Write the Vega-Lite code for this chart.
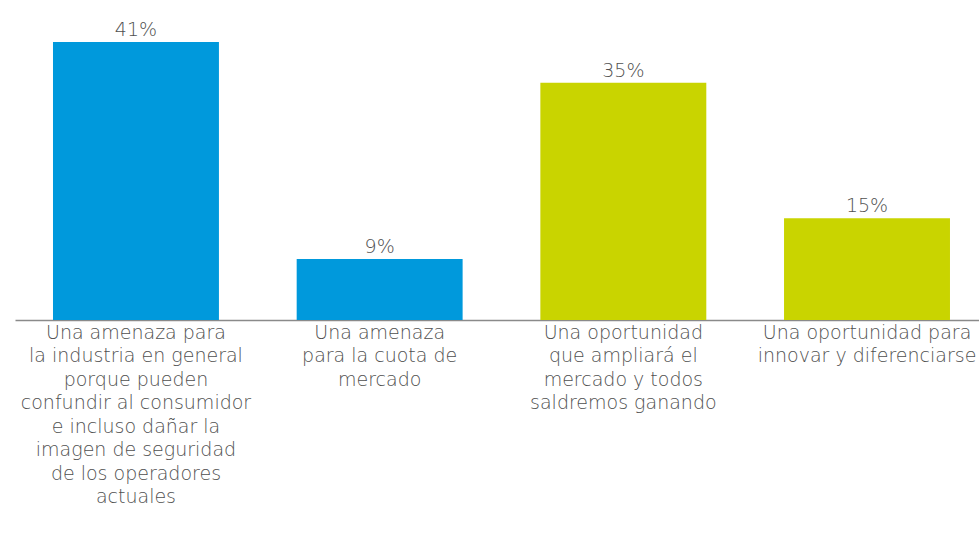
{
  "$schema": "https://vega.github.io/schema/vega-lite/v6.json",
  "width": 964,
  "height": 320,
  "autosize": {"type": "none"},
  "padding": {"left": 15, "top": 0, "right": 0, "bottom": 233},
  "background": "white",
  "config": {"view": {"stroke": null}, "font": "DejaVu Sans"},
  "data": {
    "values": [
      {"opcion": "Una amenaza para|la industria en general|porque pueden|confundir al consumidor|e incluso dañar la|imagen de seguridad|de los operadores|actuales", "tipo": "Amenaza", "valor": 41, "etiqueta": "41%"},
      {"opcion": "Una amenaza|para la cuota de|mercado", "tipo": "Amenaza", "valor": 9, "etiqueta": "9%"},
      {"opcion": "Una oportunidad|que ampliará el|mercado y todos|saldremos ganando", "tipo": "Oportunidad", "valor": 35, "etiqueta": "35%"},
      {"opcion": "Una oportunidad para|innovar y diferenciarse", "tipo": "Oportunidad", "valor": 15, "etiqueta": "15%"}
    ]
  },
  "encoding": {
    "x": {
      "field": "opcion",
      "type": "nominal",
      "sort": null,
      "scale": {"paddingInner": 0.319, "paddingOuter": 0.1375, "align": 0.567},
      "axis": {
        "title": null,
        "labelAngle": 0,
        "labelExpr": "split(datum.label, '|')",
        "labelFont": "DejaVu Sans",
        "labelFontSize": 19,
        "labelFontWeight": 300,
        "labelColor": "#505050",
        "labelLineHeight": 23.5,
        "labelPadding": 3,
        "labelLimit": 400,
        "labelOverlap": false,
        "ticks": false,
        "domainColor": "#8a8a8a",
        "domainWidth": 1.5
      }
    },
    "y": {
      "field": "valor",
      "type": "quantitative",
      "scale": {"domain": [0, 47.2], "nice": false},
      "axis": null
    }
  },
  "layer": [
    {
      "mark": {"type": "bar"},
      "encoding": {
        "color": {
          "field": "tipo",
          "type": "nominal",
          "scale": {"domain": ["Amenaza", "Oportunidad"], "range": ["#0099dc", "#c9d400"]},
          "legend": null
        }
      }
    },
    {
      "mark": {"type": "text", "baseline": "alphabetic", "dy": -6, "font": "DejaVu Sans", "fontSize": 19, "fontWeight": 300, "color": "#505050"},
      "encoding": {
        "text": {"field": "etiqueta", "type": "nominal"}
      }
    }
  ]
}
